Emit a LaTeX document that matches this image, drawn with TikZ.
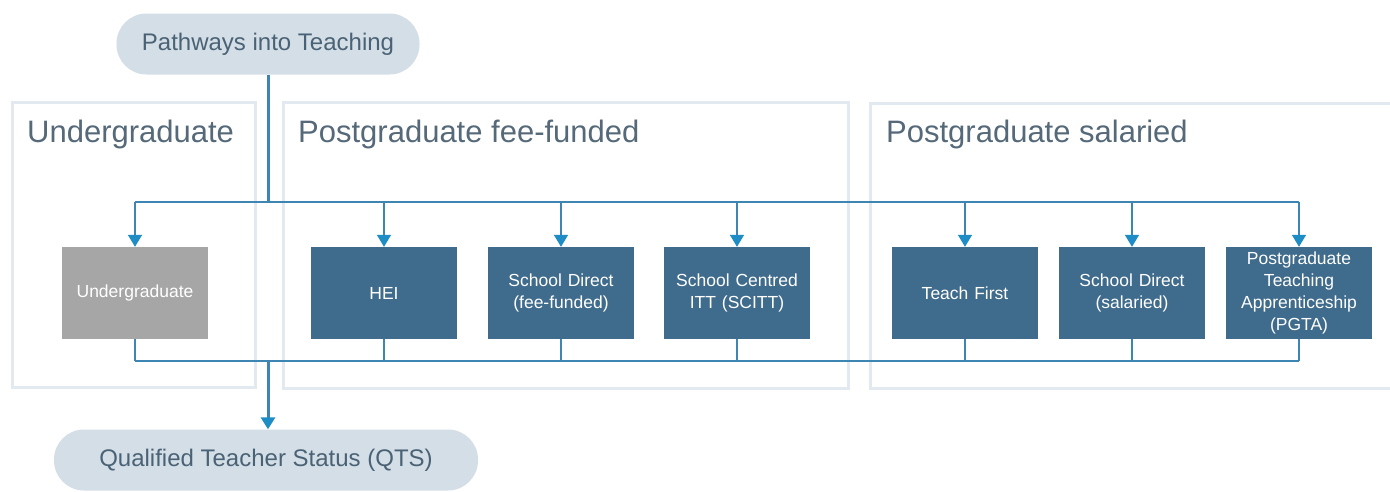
\documentclass[tikz,border=0pt]{standalone}
\usepackage{fontspec}
\setmainfont{Liberation Sans}
\usetikzlibrary{arrows.meta,calc}

\definecolor{pillfill}{HTML}{D4DEE6}
\definecolor{pilltext}{HTML}{4A6275}
\definecolor{groupline}{HTML}{E2E9F1}
\definecolor{grouptext}{HTML}{556979}
\definecolor{routebox}{HTML}{3F6B8C}
\definecolor{ugbox}{HTML}{A6A6A6}
\definecolor{busline}{HTML}{3D86B4}
\definecolor{tipblue}{HTML}{1E8DC6}

\begin{document}
\begin{tikzpicture}[x=1pt,y=-1pt,
  pill/.style={fill=pillfill,text=pilltext,rounded corners=30pt,minimum height=61pt,inner sep=0pt,font=\fontsize{24}{28}\selectfont},
  grp/.style={draw=groupline,line width=3pt},
  grptitle/.style={anchor=base west,text=grouptext,inner sep=0pt,font=\fontsize{31}{35}\selectfont},
  route/.style={fill=routebox,text=white,minimum width=146pt,minimum height=92pt,text width=142pt,align=center,inner sep=0pt,font=\fontsize{17.5}{22}\selectfont},
  bus/.style={draw=busline,line width=1.6pt},
  trunk/.style={draw=busline,line width=3pt},
  tip/.style={-{Triangle[width=14pt,length=12pt,color=tipblue]}}]
\useasboundingbox (0,0) rectangle (1390,491);
\clip (0,0) rectangle (1390,491);
\fill[white] (0,0) rectangle (1390,491);

\draw[grp] (12,102) rectangle (255,387);
\draw[grp] (283,102) rectangle (848,388);
\draw[grp] (870,103) rectangle (1410,388);

\node[grptitle] (tug) at (27,142) {Undergraduate};
\node[grptitle] (tfee) at (298,142) {Postgraduate fee-funded};
\node[grptitle] (tsal) at (886,142) {Postgraduate salaried};

\node[pill,minimum width=303pt] (path) at (268,44) {Pathways into Teaching};
\node[pill,minimum width=424pt] (qts) at (266,460) {Qualified Teacher Status (QTS)};

\node[route,fill=ugbox] (ug) at (135,293) {Undergraduate};
\node[route] (hei) at (384,293) {HEI};
\node[route] (sdfee) at (561,293) {School Direct\\(fee-funded)};
\node[route] (scitt) at (737,293) {School Centred\\ITT (SCITT)};
\node[route] (tf) at (965,293) {Teach First};
\node[route] (sdsal) at (1132,293) {School Direct\\(salaried)};
\node[route] (pgta) at (1299,293) {Postgraduate\\Teaching\\Apprenticeship\\(PGTA)};

\coordinate (top) at (268,202);
\coordinate (bot) at (268,361);

\draw[trunk] (path.south) -- (top);
\draw[bus] (ug.north |- top) -- (pgta.north |- top);
\draw[bus,tip] (ug.north |- top) -- (ug.north);
\draw[bus,tip] (hei.north |- top) -- (hei.north);
\draw[bus,tip] (sdfee.north |- top) -- (sdfee.north);
\draw[bus,tip] (scitt.north |- top) -- (scitt.north);
\draw[bus,tip] (tf.north |- top) -- (tf.north);
\draw[bus,tip] (sdsal.north |- top) -- (sdsal.north);
\draw[bus,tip] (pgta.north |- top) -- (pgta.north);

\draw[bus] (ug.south) -- (ug.south |- bot);
\draw[bus] (hei.south) -- (hei.south |- bot);
\draw[bus] (sdfee.south) -- (sdfee.south |- bot);
\draw[bus] (scitt.south) -- (scitt.south |- bot);
\draw[bus] (tf.south) -- (tf.south |- bot);
\draw[bus] (sdsal.south) -- (sdsal.south |- bot);
\draw[bus] (pgta.south) -- (pgta.south |- bot);
\draw[bus] (ug.south |- bot) -- (pgta.south |- bot);
\draw[trunk,tip] (bot) -- (bot |- qts.north);

\end{tikzpicture}
\end{document}
